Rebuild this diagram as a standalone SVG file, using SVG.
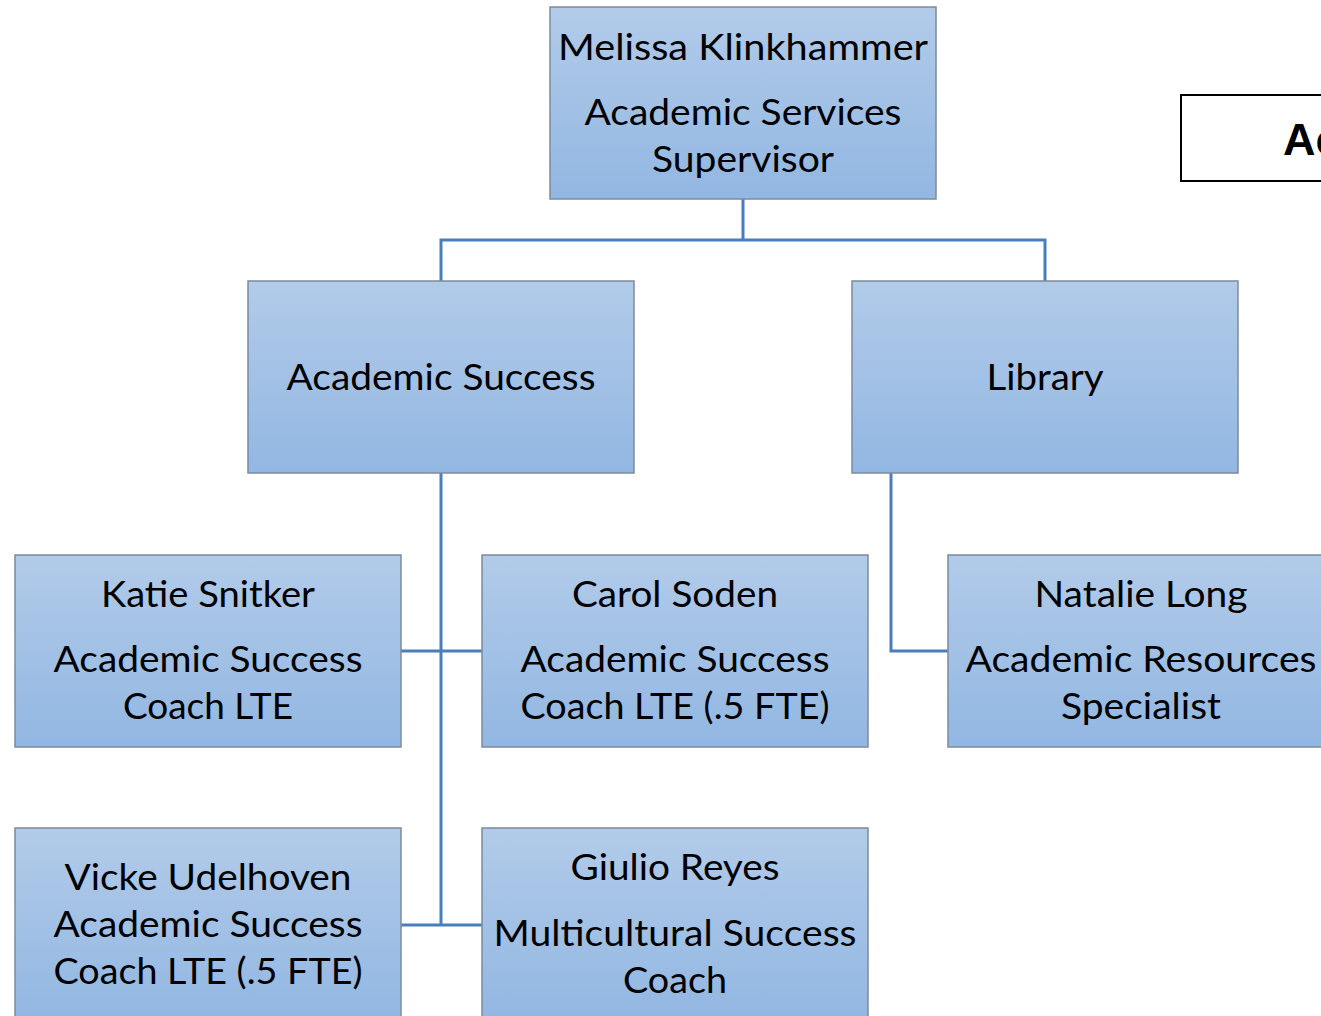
<svg xmlns="http://www.w3.org/2000/svg" width="1321" height="1016" viewBox="0 0 1321 1016">
<defs>
<linearGradient id="g" x1="0" y1="0" x2="0" y2="1">
<stop offset="0" stop-color="#b2cbe9"/>
<stop offset="1" stop-color="#92b7e2"/>
</linearGradient>
<style>
.box{fill:url(#g);stroke:#7c8b9c;stroke-width:1.5}
.t{font-family:Lato,"Liberation Sans",sans-serif;font-size:36px;fill:#000;text-anchor:middle}
.c{fill:none;stroke:#4a7ebb;stroke-width:3}
</style>
</defs>
<rect width="1321" height="1016" fill="#fff"/>
<g id="connectors">
<path class="c" d="M743 199V240M441 281V240H1045V281"/>
<path class="c" d="M441 473V925M401 651H482M401 925H482"/>
<path class="c" d="M891 473V651H948"/>
</g>
<g id="title">
<rect x="1181" y="95" width="150" height="86" fill="#fff" stroke="#000" stroke-width="2"/>
<text x="1283" y="155" font-family="Liberation Sans, sans-serif" font-weight="bold" font-size="45">Ac</text>
</g>
<g id="melissa">
<rect class="box" x="550" y="7" width="386" height="192"/>
<text class="t" x="743" y="60" textLength="370" lengthAdjust="spacingAndGlyphs">Melissa Klinkhammer</text>
<text class="t" x="743" y="125" textLength="317" lengthAdjust="spacingAndGlyphs">Academic Services</text>
<text class="t" x="743" y="172" textLength="182" lengthAdjust="spacingAndGlyphs">Supervisor</text>
</g>
<g id="academic-success">
<rect class="box" x="248" y="281" width="386" height="192"/>
<text class="t" x="441" y="390" textLength="309" lengthAdjust="spacingAndGlyphs">Academic Success</text>
</g>
<g id="library">
<rect class="box" x="852" y="281" width="386" height="192"/>
<text class="t" x="1045" y="390" textLength="117" lengthAdjust="spacingAndGlyphs">Library</text>
</g>
<g id="katie">
<rect class="box" x="15" y="555" width="386" height="192"/>
<text class="t" x="208" y="607" textLength="214" lengthAdjust="spacingAndGlyphs">Katie Snitker</text>
<text class="t" x="208" y="672" textLength="309" lengthAdjust="spacingAndGlyphs">Academic Success</text>
<text class="t" x="208" y="719" textLength="170" lengthAdjust="spacingAndGlyphs">Coach LTE</text>
</g>
<g id="carol">
<rect class="box" x="482" y="555" width="386" height="192"/>
<text class="t" x="675" y="607" textLength="206" lengthAdjust="spacingAndGlyphs">Carol Soden</text>
<text class="t" x="675" y="672" textLength="309" lengthAdjust="spacingAndGlyphs">Academic Success</text>
<text class="t" x="675" y="719" textLength="309" lengthAdjust="spacingAndGlyphs">Coach LTE (.5 FTE)</text>
</g>
<g id="natalie">
<rect class="box" x="948" y="555" width="386" height="192"/>
<text class="t" x="1141" y="607" textLength="213" lengthAdjust="spacingAndGlyphs">Natalie Long</text>
<text class="t" x="1141" y="672" textLength="351" lengthAdjust="spacingAndGlyphs">Academic Resources</text>
<text class="t" x="1141" y="719" textLength="160" lengthAdjust="spacingAndGlyphs">Specialist</text>
</g>
<g id="vicke">
<rect class="box" x="15" y="828" width="386" height="192"/>
<text class="t" x="208" y="890" textLength="287" lengthAdjust="spacingAndGlyphs">Vicke Udelhoven</text>
<text class="t" x="208" y="937" textLength="309" lengthAdjust="spacingAndGlyphs">Academic Success</text>
<text class="t" x="208" y="984" textLength="309" lengthAdjust="spacingAndGlyphs">Coach LTE (.5 FTE)</text>
</g>
<g id="giulio">
<rect class="box" x="482" y="828" width="386" height="192"/>
<text class="t" x="675" y="880" textLength="209" lengthAdjust="spacingAndGlyphs">Giulio Reyes</text>
<text class="t" x="675" y="946" textLength="363" lengthAdjust="spacingAndGlyphs">Multicultural Success</text>
<text class="t" x="675" y="993" textLength="104" lengthAdjust="spacingAndGlyphs">Coach</text>
</g>
</svg>
